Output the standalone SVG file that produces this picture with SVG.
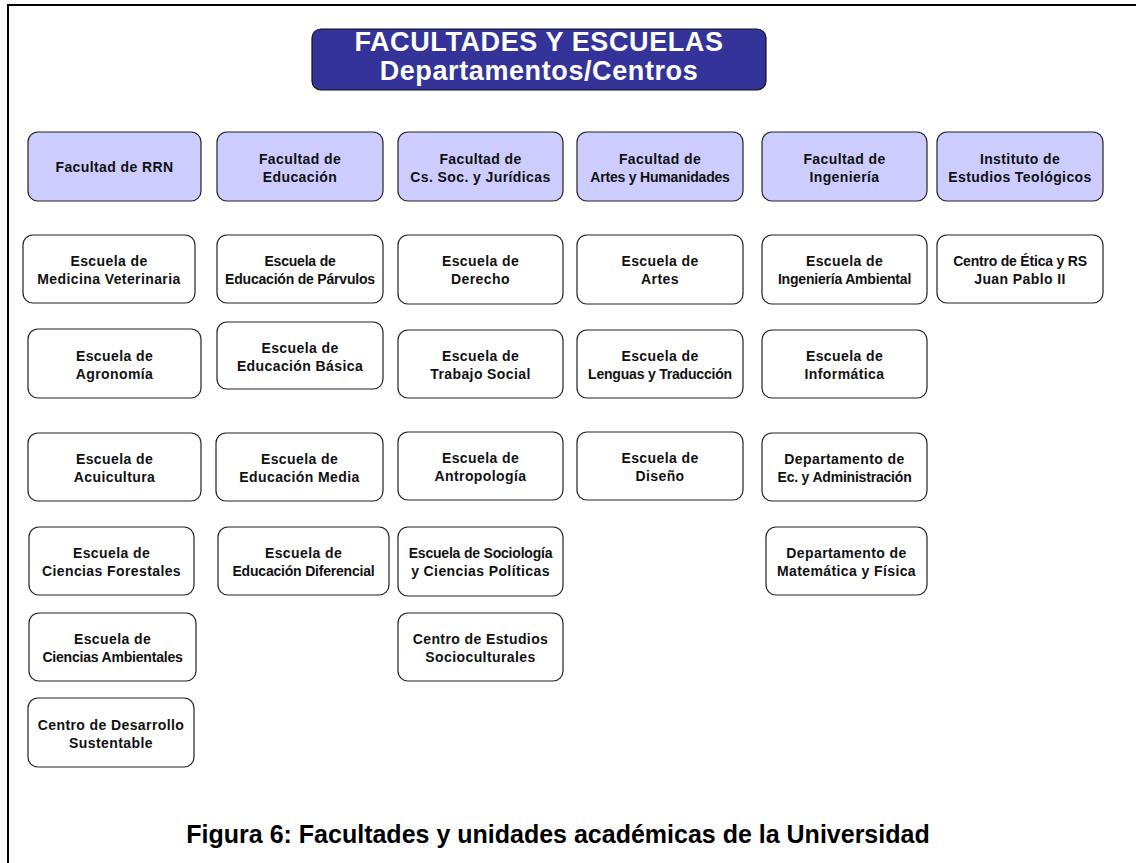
<svg xmlns="http://www.w3.org/2000/svg" width="1136" height="863" viewBox="0 0 1136 863">
<style>
.b{fill:#fff;stroke:#222;stroke-width:1.2}
.h{fill:#ccccff;stroke:#222;stroke-width:1.2}
.t{font-family:"Liberation Sans",Arial,sans-serif;font-weight:bold;font-size:14px;text-anchor:middle;fill:#111;letter-spacing:0.4px}
.k{letter-spacing:-0.2px}
.title{font-family:"Liberation Sans",Arial,sans-serif;font-weight:bold;font-size:27px;text-anchor:middle;fill:#fff;letter-spacing:0.6px}
.cap{font-family:"Liberation Sans",Arial,sans-serif;font-weight:bold;font-size:25px;text-anchor:middle;fill:#000}
</style>
<rect width="1136" height="863" fill="#fff"/>
<g id="frame" fill="none" stroke="#000">
<line x1="7" y1="5" x2="1136" y2="5" stroke-width="2"/>
<line x1="8" y1="4" x2="8" y2="863" stroke-width="2"/>
</g>
<g id="connectors"/>
<g id="title">
<rect x="312" y="29" width="454" height="61" rx="9" fill="#333399" stroke="#111" stroke-width="1.2"/>
<text class="title" x="539" y="51">FACULTADES Y ESCUELAS</text>
<text class="title" x="539" y="80">Departamentos/Centros</text>
</g>
<!-- Column 1 -->
<g id="fac-rrn"><rect class="h" x="28" y="132" width="173" height="69" rx="10"/><text class="t" x="114.5" y="171.5">Facultad de RRN</text></g>
<g id="esc-medvet"><rect class="b" x="23" y="235" width="172" height="68" rx="10"/><text class="t" x="109" y="266">Escuela de</text><text class="t" x="109" y="284">Medicina Veterinaria</text></g>
<g id="esc-agro"><rect class="b" x="28" y="329" width="173" height="69" rx="10"/><text class="t" x="114.5" y="360.5">Escuela de</text><text class="t" x="114.5" y="378.5">Agronomía</text></g>
<g id="esc-acui"><rect class="b" x="28" y="433" width="173" height="68" rx="10"/><text class="t" x="114.5" y="464">Escuela de</text><text class="t" x="114.5" y="482">Acuicultura</text></g>
<g id="esc-forest"><rect class="b" x="29" y="527" width="165" height="68" rx="10"/><text class="t" x="111.5" y="558">Escuela de</text><text class="t" x="111.5" y="576">Ciencias Forestales</text></g>
<g id="esc-amb"><rect class="b" x="29" y="613" width="167" height="68" rx="10"/><text class="t" x="112.5" y="644">Escuela de</text><text class="t k" x="112.5" y="662">Ciencias Ambientales</text></g>
<g id="cen-desarrollo"><rect class="b" x="28" y="698" width="166" height="69" rx="10"/><text class="t" x="111" y="729.5">Centro de Desarrollo</text><text class="t" x="111" y="747.5">Sustentable</text></g>
<!-- Column 2 -->
<g id="fac-edu"><rect class="h" x="217" y="132" width="166" height="69" rx="10"/><text class="t" x="300" y="163.5">Facultad de</text><text class="t" x="300" y="181.5">Educación</text></g>
<g id="esc-parv"><rect class="b" x="217" y="235" width="166" height="68" rx="10"/><text class="t k" x="300" y="266">Escuela de</text><text class="t k" x="300" y="284">Educación de Párvulos</text></g>
<g id="esc-basica"><rect class="b" x="217" y="322" width="166" height="67" rx="10"/><text class="t" x="300" y="352.5">Escuela de</text><text class="t" x="300" y="370.5">Educación Básica</text></g>
<g id="esc-media"><rect class="b" x="216" y="433" width="167" height="68" rx="10"/><text class="t" x="299.5" y="464">Escuela de</text><text class="t" x="299.5" y="482">Educación Media</text></g>
<g id="esc-dif"><rect class="b" x="218" y="527" width="171" height="68" rx="10"/><text class="t" x="303.5" y="558">Escuela de</text><text class="t k" x="303.5" y="576">Educación Diferencial</text></g>
<!-- Column 3 -->
<g id="fac-cssoc"><rect class="h" x="398" y="132" width="165" height="69" rx="10"/><text class="t" x="480.5" y="163.5">Facultad de</text><text class="t" x="480.5" y="181.5">Cs. Soc. y Jurídicas</text></g>
<g id="esc-derecho"><rect class="b" x="398" y="235" width="165" height="69" rx="10"/><text class="t" x="480.5" y="266">Escuela de</text><text class="t" x="480.5" y="284">Derecho</text></g>
<g id="esc-trabsoc"><rect class="b" x="398" y="330" width="165" height="68" rx="10"/><text class="t" x="480.5" y="361">Escuela de</text><text class="t" x="480.5" y="379">Trabajo Social</text></g>
<g id="esc-antro"><rect class="b" x="398" y="432" width="165" height="68" rx="10"/><text class="t" x="480.5" y="463">Escuela de</text><text class="t" x="480.5" y="481">Antropología</text></g>
<g id="esc-socio"><rect class="b" x="398" y="527" width="165" height="69" rx="10"/><text class="t k" x="480.5" y="558">Escuela de Sociología</text><text class="t" x="480.5" y="576">y Ciencias Políticas</text></g>
<g id="cen-socio"><rect class="b" x="398" y="613" width="165" height="68" rx="10"/><text class="t" x="480.5" y="644">Centro de Estudios</text><text class="t" x="480.5" y="662">Socioculturales</text></g>
<!-- Column 4 -->
<g id="fac-artes"><rect class="h" x="577" y="132" width="166" height="69" rx="10"/><text class="t" x="660" y="163.5">Facultad de</text><text class="t k" x="660" y="181.5">Artes y Humanidades</text></g>
<g id="esc-artes"><rect class="b" x="577" y="235" width="166" height="69" rx="10"/><text class="t" x="660" y="266">Escuela de</text><text class="t" x="660" y="284">Artes</text></g>
<g id="esc-lenguas"><rect class="b" x="577" y="330" width="166" height="68" rx="10"/><text class="t" x="660" y="361">Escuela de</text><text class="t k" x="660" y="379">Lenguas y Traducción</text></g>
<g id="esc-diseno"><rect class="b" x="577" y="432" width="166" height="68" rx="10"/><text class="t" x="660" y="463">Escuela de</text><text class="t" x="660" y="481">Diseño</text></g>
<!-- Column 5 -->
<g id="fac-ing"><rect class="h" x="762" y="132" width="165" height="69" rx="10"/><text class="t" x="844.5" y="163.5">Facultad de</text><text class="t" x="844.5" y="181.5">Ingeniería</text></g>
<g id="esc-ingamb"><rect class="b" x="762" y="235" width="165" height="69" rx="10"/><text class="t" x="844.5" y="266">Escuela de</text><text class="t k" x="844.5" y="284">Ingeniería Ambiental</text></g>
<g id="esc-inf"><rect class="b" x="762" y="330" width="165" height="68" rx="10"/><text class="t" x="844.5" y="361">Escuela de</text><text class="t" x="844.5" y="379">Informática</text></g>
<g id="dep-ec"><rect class="b" x="762" y="433" width="165" height="68" rx="10"/><text class="t" x="844.5" y="464">Departamento de</text><text class="t k" x="844.5" y="482">Ec. y Administración</text></g>
<g id="dep-mat"><rect class="b" x="766" y="527" width="161" height="68" rx="10"/><text class="t" x="846.5" y="558">Departamento de</text><text class="t" x="846.5" y="576">Matemática y Física</text></g>
<!-- Column 6 -->
<g id="inst-teo"><rect class="h" x="937" y="132" width="166" height="69" rx="10"/><text class="t" x="1020" y="163.5">Instituto de</text><text class="t" x="1020" y="181.5">Estudios Teológicos</text></g>
<g id="cen-etica"><rect class="b" x="937" y="235" width="166" height="68" rx="10"/><text class="t k" x="1020" y="266">Centro de Ética y RS</text><text class="t" x="1020" y="284">Juan Pablo II</text></g>
<g id="caption"><text class="cap" x="558" y="843">Figura 6: Facultades y unidades académicas de la Universidad</text></g>
</svg>
